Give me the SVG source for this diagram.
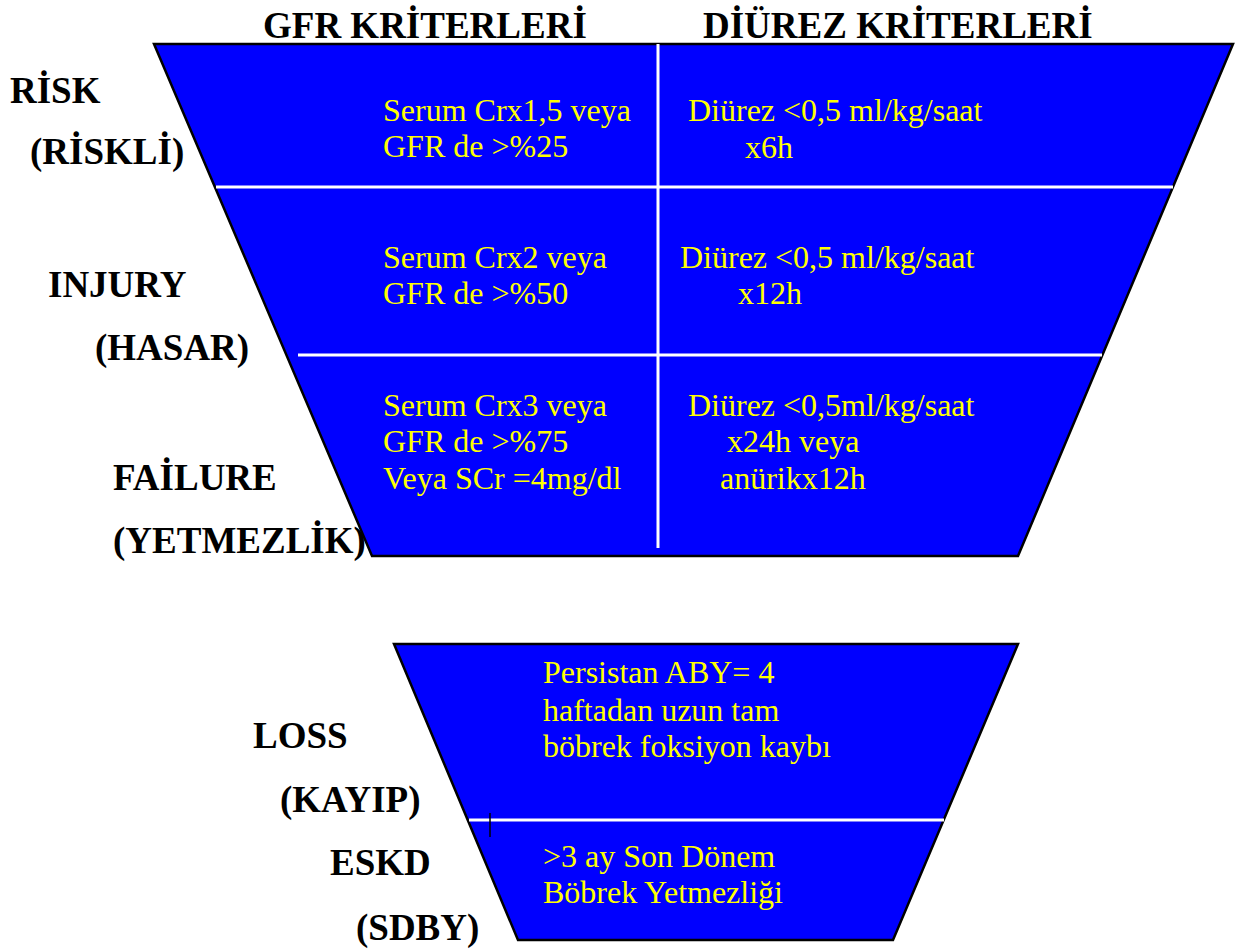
<svg xmlns="http://www.w3.org/2000/svg" width="1239" height="950" viewBox="0 0 1239 950">
<style>
.shape{fill:#0000ff;stroke:#000;stroke-width:2.5}
.div{stroke:#fff;stroke-width:3;fill:none}
.hd{font-family:"Liberation Serif","Times New Roman",serif;font-weight:bold;font-size:37px;fill:#000}
.yt{font-family:"Liberation Serif","Times New Roman",serif;font-size:32px;fill:#ffff00}
</style>
<rect width="1239" height="950" fill="#fff"/>
<g id="headers">
<text class="hd" x="263" y="38">GFR KRİTERLERİ</text>
<text class="hd" x="703" y="38">DİÜREZ KRİTERLERİ</text>
</g>
<g id="top-funnel">
<polygon class="shape" points="154,44 1233,44 1018,556 372,556"/>
<line class="div" x1="216" y1="187" x2="1173" y2="187"/>
<line class="div" x1="298" y1="355" x2="1102" y2="355"/>
<line class="div" x1="658" y1="44" x2="658" y2="548"/>
</g>
<g id="risk">
<text class="hd" x="10" y="103">RİSK</text>
<text class="hd" x="30" y="164">(RİSKLİ)</text>
<text class="yt" x="383" y="121">Serum Crx1,5 veya</text>
<text class="yt" x="383" y="157">GFR de &gt;%25</text>
<text class="yt" x="688" y="121">Diürez &lt;0,5 ml/kg/saat</text>
<text class="yt" x="745" y="158">x6h</text>
</g>
<g id="injury">
<text class="hd" x="48" y="297">INJURY</text>
<text class="hd" x="95" y="360">(HASAR)</text>
<text class="yt" x="383" y="268">Serum Crx2 veya</text>
<text class="yt" x="383" y="304">GFR de &gt;%50</text>
<text class="yt" x="680" y="268">Diürez &lt;0,5 ml/kg/saat</text>
<text class="yt" x="738" y="304">x12h</text>
</g>
<g id="failure">
<text class="hd" x="113" y="490">FAİLURE</text>
<text class="hd" x="113" y="553">(YETMEZLİK)</text>
<text class="yt" x="383" y="416">Serum Crx3 veya</text>
<text class="yt" x="383" y="452">GFR de &gt;%75</text>
<text class="yt" x="383" y="489">Veya SCr =4mg/dl</text>
<text class="yt" x="688" y="416">Diürez &lt;0,5ml/kg/saat</text>
<text class="yt" x="727" y="452">x24h veya</text>
<text class="yt" x="720" y="489">anürikx12h</text>
</g>
<g id="bottom-funnel">
<polygon class="shape" points="394,644 1018,644 893,940 518,940"/>
<line class="div" x1="469" y1="820" x2="944" y2="820"/>
<line x1="490" y1="813" x2="490" y2="837" stroke="#000" stroke-width="1.5"/>
</g>
<g id="loss">
<text class="hd" x="253" y="748">LOSS</text>
<text class="hd" x="280" y="812">(KAYIP)</text>
<text class="yt" x="543" y="683">Persistan ABY= 4</text>
<text class="yt" x="543" y="721">haftadan uzun tam</text>
<text class="yt" x="543" y="757">böbrek foksiyon kaybı</text>
</g>
<g id="eskd">
<text class="hd" x="330" y="875">ESKD</text>
<text class="hd" x="356" y="940">(SDBY)</text>
<text class="yt" x="543" y="867">&gt;3 ay Son Dönem</text>
<text class="yt" x="543" y="903">Böbrek Yetmezliği</text>
</g>
<g id="connectors"></g>
</svg>
